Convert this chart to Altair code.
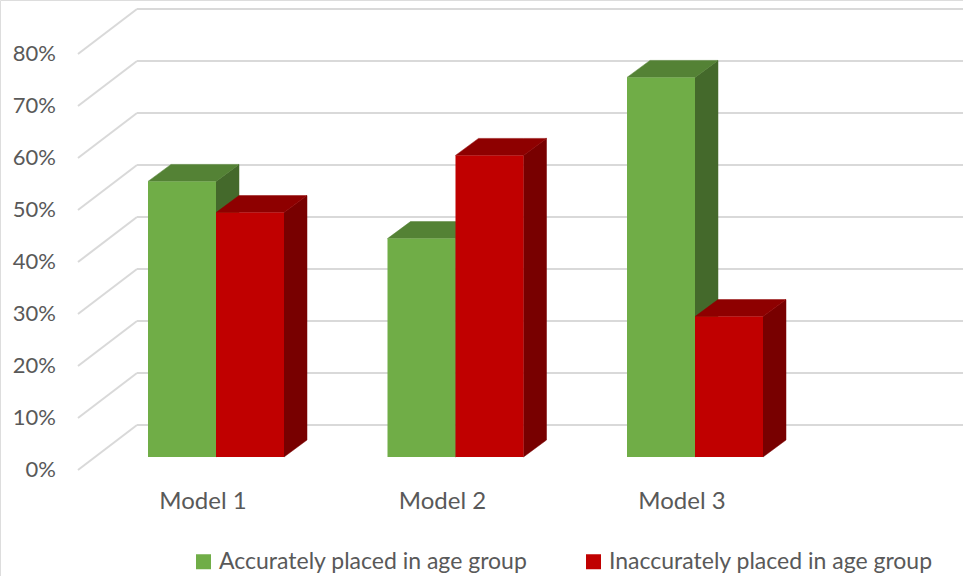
import altair as alt
import pandas as pd

# ---------------- data ----------------
models = ["Model 1", "Model 2", "Model 3"]
series = ["Accurately placed in age group", "Inaccurately placed in age group"]
accurate = [0.53, 0.42, 0.73]
inaccurate = [0.47, 0.58, 0.27]
ticks = [0.0, 0.1, 0.2, 0.3, 0.4, 0.5, 0.6, 0.7, 0.8]

# ---------------- style / layout constants (pixels) ----------------
W, H = 963, 576
X_C0, X_STEP = 216, 239.5      # pixel centre of first category, pixels per category
Y_ZERO, Y_UNIT = 457, 520      # pixel of 0 % on the bar front plane, pixels per 100 %


def ux(px):
    return (px - X_C0) / X_STEP


def uy(py):
    return (Y_ZERO - py) / Y_UNIT


BAR_W = 68 / X_STEP
DX, DY = 23 / X_STEP, 17 / Y_UNIT          # bar depth
WALL_FRONT_X, WALL_BACK_X = ux(78), ux(137)
FRONT_DY = -13 / Y_UNIT                    # left-wall front edge vs bar plane
BACK_DY = 32 / Y_UNIT                      # back wall vs bar plane
LABEL_DX = -13 / X_STEP

GREEN = ["#70AD47", "#548235", "#44692B"]   # front, top, side
RED = ["#C00000", "#8E0000", "#780000"]
GRID = "#D9D9D9"
TEXT = "#595959"
FONT = "Lato"

# ---------------- build tables ----------------
front_rows, side_rows, top_rows = [], [], []
for i, m in enumerate(models):
    for s, vals in enumerate([accurate, inaccurate]):
        v = vals[i]
        xl = i - BAR_W + s * BAR_W
        xr = xl + BAR_W
        bid = f"{m}-{s}"
        front_rows.append(dict(series=series[s], x=xl, x2=xr, y=v, y2=0.0))
        side_rows += [
            dict(series=series[s], bar=bid, x=xr, y=v, y2=0.0),
            dict(series=series[s], bar=bid, x=xr + DX, y=v + DY, y2=DY),
        ]
        top_rows += [
            dict(series=series[s], bar=bid, x=xl, y=v, y2=v),
            dict(series=series[s], bar=bid, x=xl + DX, y=v + DY, y2=v),
            dict(series=series[s], bar=bid, x=xr, y=v + DY, y2=v),
            dict(series=series[s], bar=bid, x=xr + DX, y=v + DY, y2=v + DY),
        ]
front = pd.DataFrame(front_rows)
side = pd.DataFrame(side_rows)
top = pd.DataFrame(top_rows)

grid = pd.DataFrame(
    dict(
        t=ticks,
        label=[f"{round(t * 100)}%" for t in ticks],
        xf=[WALL_FRONT_X] * len(ticks),
        xb=[WALL_BACK_X] * len(ticks),
        xe=[ux(W)] * len(ticks),
        yf=[t + FRONT_DY for t in ticks],
        yb=[t + BACK_DY for t in ticks],
        xl=[ux(56)] * len(ticks),
    )
)
cats = pd.DataFrame(
    dict(model=models, x=[i + LABEL_DX for i in range(len(models))], y=[uy(502)] * len(models))
)

xs = alt.Scale(domain=[ux(0), ux(W)], nice=False, zero=False)
ys = alt.Scale(domain=[uy(H), uy(0)], nice=False, zero=False)


def X(f):
    return alt.X(f, type="quantitative", scale=xs, axis=None)


def Y(f):
    return alt.Y(f, type="quantitative", scale=ys, axis=None, stack=None)


diag = alt.Chart(grid).mark_rule(color=GRID, strokeWidth=2).encode(
    x=X("xf"), x2="xb", y=Y("yf"), y2="yb"
)
back = alt.Chart(grid).mark_rule(color=GRID, strokeWidth=2).encode(
    x=X("xb"), x2="xe", y=Y("yb")
)
tick_labels = alt.Chart(grid).mark_text(
    align="right", baseline="middle", font=FONT, fontSize=22, color=TEXT
).encode(x=X("xl"), y=Y("yf"), text="label:N")
cat_labels = alt.Chart(cats).mark_text(
    align="center", baseline="middle", font=FONT, fontSize=24, color=TEXT
).encode(x=X("x"), y=Y("y"), text="model:N")


def faces(df, s, color):
    return (
        alt.Chart(df)
        .transform_filter(alt.datum.series == series[s])
        .mark_area(color=color, stroke=color, strokeWidth=0.5, interpolate="linear")
        .encode(x=X("x"), y=Y("y"), y2="y2", detail="bar:N")
    )


fronts = alt.Chart(front).mark_rect().encode(
    x=X("x"),
    x2="x2",
    y=Y("y"),
    y2="y2",
    color=alt.Color(
        "series:N",
        scale=alt.Scale(domain=series, range=[GREEN[0], RED[0]]),
        legend=alt.Legend(
            orient="none",
            legendX=192,
            legendY=550,
            direction="horizontal",
            title=None,
            symbolType="square",
            symbolSize=225,
            symbolStrokeWidth=0,
            labelFont=FONT,
            labelFontSize=23,
            labelColor=TEXT,
            labelOffset=4,
            labelLimit=600,
            columnPadding=54,
        ),
    ),
)

chart = (
    alt.layer(
        diag,
        back,
        tick_labels,
        cat_labels,
        faces(side, 0, GREEN[2]),
        faces(top, 0, GREEN[1]),
        faces(side, 1, RED[2]),
        faces(top, 1, RED[1]),
        fronts,
    )
    .properties(width=W, height=H, padding=0, autosize=alt.AutoSizeParams(type="none"))
    .configure_view(stroke=None)
    .configure(background="white")
)

chart.save("out.html", embed_options={"renderer": "svg", "actions": False})
